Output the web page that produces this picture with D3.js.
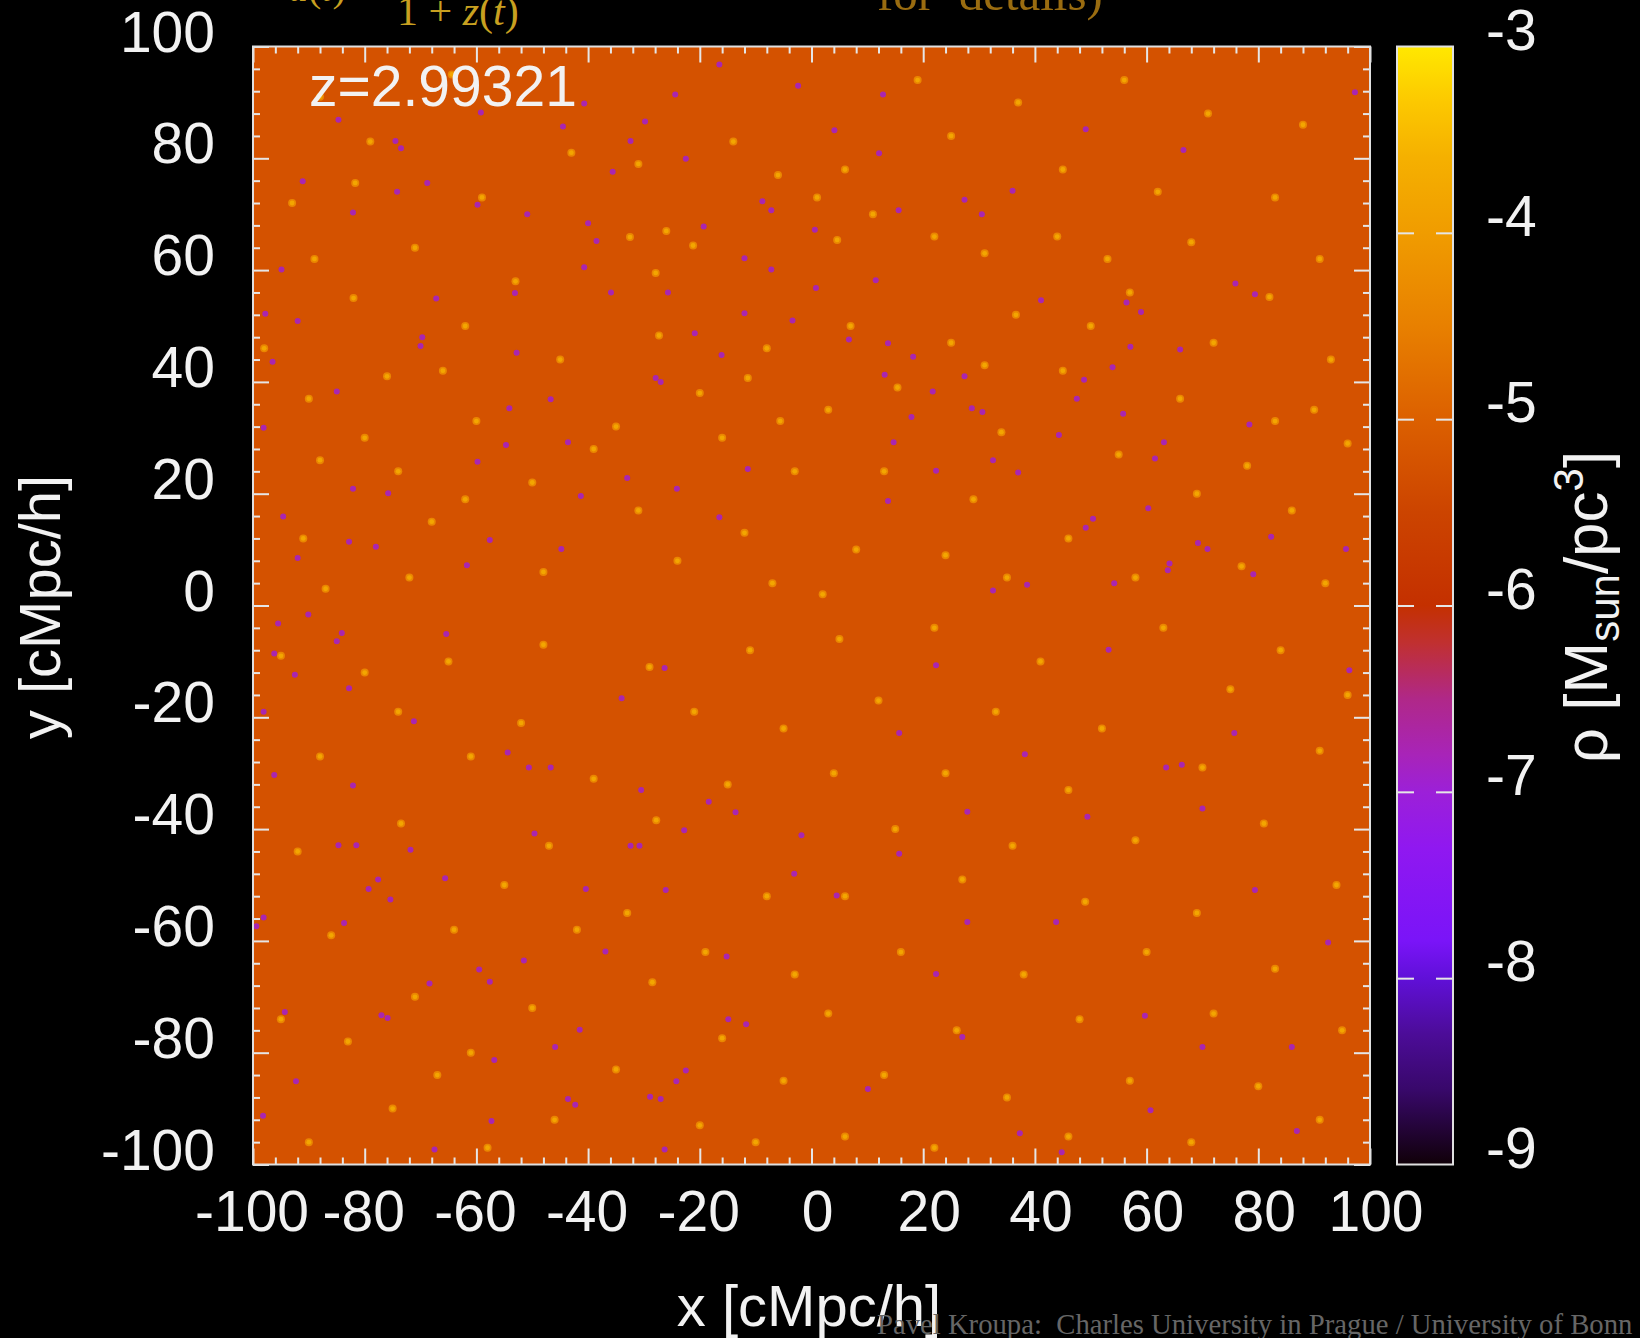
<!DOCTYPE html>
<html>
<head>
<meta charset="utf-8">
<script src="https://cdn.jsdelivr.net/npm/d3@7"></script>
<style>
    html, body { margin: 0; padding: 0; background: #000; overflow: hidden; }
    text { font-family: "Liberation Sans", sans-serif; fill: #f2f2f2; white-space: pre; }
    .serif { font-family: "Liberation Serif", serif; }
</style>
</head>
<body>
<div id="chart"></div>
<script>
const xTickValues = [-100, -80, -60, -40, -20, 0, 20, 40, 60, 80, 100];
const yTickValues = [-100, -80, -60, -40, -20, 0, 20, 40, 60, 80, 100];
const minorTickValues = [-96, -92, -88, -84, -76, -72, -68, -64, -56, -52, -48, -44, -36, -32, -28, -24, -16, -12, -8, -4,
    4, 8, 12, 16, 24, 28, 32, 36, 44, 48, 52, 56, 64, 68, 72, 76, 84, 88, 92, 96];
const rhoTickValues = [-3, -4, -5, -6, -7, -8, -9];

// colour bar (log rho -> colour)
const rhoStops = [-9, -8.6, -8.3, -8, -7.8, -7.3, -7, -6.8, -6.5, -6.2, -6, -5.5, -5, -4.5, -4, -3.6, -3.3, -3];
const rhoColors = ["#100008", "#38086a", "#4c0c98", "#6010d8", "#7a14f8", "#9018f0", "#9c20d8", "#a824b8", "#b02888",
    "#c03030", "#c43000", "#cc4400", "#dc6000", "#e88000", "#f09c00", "#f5b000", "#fcc800", "#ffe800"];

// The real field is a fine grain of many thousands of cells which can't be read one by one, and it isn't
// faked with noise here. fieldRho is the flat colour that averages the grain, and the lists below hold only
// the spots picked out by eye (x, y in cMpc/h, estimated positions, far fewer than the picture really has)
const fieldRho = -5.25;
const voidRho = -6.75;
const peakRho = -3.8;
const glowRho = -4.4;

const voidSpots = [
    [-16.5,96.8],[-2.4,93],[-24.4,91.4],[-40.7,89.8],[-59.2,88.2],[-29.8,86.6],[-84.7,86.9],[-44.5,85.7],[-32.4,83.1],[-74.5,83.1],
    [-73.5,81.8],[-22.5,79.9],[-35.6,77.6],[-91.1,75.9],[-68.8,75.6],[-74.2,74],[-59.8,71.7],[-8.8,72.3],[-7.2,70.7],[-82.1,70.3],
    [-50.9,70],[-40,68.4],[-19.3,67.8],[-38.5,65.2],[-12,62.1],[-40.7,60.5],[-7.2,60.1],[-94.9,60.1],[-35.9,56],[-53.1,55.9],
    [-67.2,54.9],[-25.7,56],[-12,52.3],[-3.4,51],[-97.8,52.2],[-92,50.9],[-20.9,48.7],[-69.7,48],[-70,46.4],[-16.1,44.8],
    [-52.8,45.2],[-96.5,43.6],[-27,40],[-27.9,40.7],[-85,38.3],[-46.7,36.9],[-54.1,35.3],[-98.1,31.8],[-54.7,28.7],[-43.6,29.2],
    [-59.8,25.7],[-75.8,20.1],[-41.3,19.6],[-24.1,20.9],[-82.1,20.9],[-94.6,15.9],[-16.5,15.8],[-82.8,11.4],[-78,10.5],[-57.6,11.7],
    [-44.8,10.1],[-92,8.5],[-61.7,7.2],[-11.4,24.4],[-33,22.8],
    [12.8,91.4],[4.1,85],[49.1,85.2],[97.3,91.8],[66.6,81.5],[12.1,80.9],[36,74.2],[27.4,72.6],[15.6,70.7],[30.5,70],
    [0.6,67.2],[11.5,58.2],[0.8,56.8],[79.4,55.7],[75.9,57.6],[56.4,54.2],[41.1,54.6],[59,52.5],[13.7,46.9],[57.1,46.3],
    [66,45.8],[6.7,47.6],[18.2,44.5],[13.1,41.3],[27.4,41],[48.8,40.4],[53.9,42.6],[21.7,38.3],[47.5,37],[28.7,35.3],
    [30.6,34.6],[17.9,33.7],[55.8,34.3],[44.3,30.5],[78.4,32.4],[14.7,29.2],[63.1,29.2],[32.5,26],[22.3,24.1],[61.5,26.3],
    [37,23.8],[13.7,18.7],[60.3,17.4],[50.4,15.5],[49.1,13.9],[82.3,12.3],[69.2,11.2],[70.9,10.1],[64.1,7.5],[63.8,6.3],
    [54.2,4],[38.6,3.7],[32.5,2.7],[95.7,10.1],[79.1,5.6],
    [-90.1,-1.6],[-95.5,-3.2],[-84.1,-4.9],[-65.4,-5.1],[-85,-6.4],[-96.2,-8.6],[-92.5,-12.4],[-82.8,-14.8],[-98.1,-19],[-71.2,-20.7],
    [-26.3,-11.2],[-34,-16.6],[-54.4,-26.3],[-46.7,-29],[-50.6,-29],[-96.2,-30.3],[-82.1,-32.2],[-30.5,-33],[-18.4,-35.1],[-13.6,-37],
    [-22.8,-40.2],[-1.8,-41.1],[-84.7,-42.9],[-81.5,-42.9],[-71.8,-43.7],[-30.8,-43],[-32.4,-43],[-49.6,-40.8],[-65.6,-48.8],[-77.6,-49],
    [-3.1,-48],[-79.3,-50.7],[-40.4,-50.7],[-26.1,-50.9],[-75.4,-52.6],[-98.1,-55.8],[-99.4,-57.4],[-83.7,-56.8],[-36.9,-61.9],[-51.5,-63.5],
    [-59.5,-65.1],[-15.2,-62.8],[-68.4,-67.6],[-57.6,-67.3],[-94.3,-72.7],[-77,-73.3],[-75.9,-73.8],[-41.5,-75.9],[-11.7,-74.9],[-14.9,-74],
    [-45.9,-79],[-56.8,-81.3],[-22.5,-83.2],[-24.2,-85.1],[-92.3,-85.1],[-43.6,-88.3],[-42.3,-89.3],[-27,-88.3],[-28.9,-87.9],[-57.3,-92.2],
    [-98.2,-91.3],[-67.5,-97.3],[-26.3,-97.3],
    [66.3,-28.5],[63.5,-29],[70,-36.3],[22.3,-10.7],[27.9,-36.9],[4.5,-51.9],[27.9,-56.6],[22.3,-65.9],[59.7,-73.4],[37.3,-94.4],
    [44.8,-97.8],[86,-79],[15.7,-44.4],[49.4,-37.8],[79.4,-50.9],[92.5,-60.3],[75.7,-22.8],[38.2,-26.6],[96.3,-11.6],[53.2,-7.9],
    [70,-79],[10.1,-86.5],[86.9,-94],[60.7,-90.3],[27,-77.2],[15.7,-22.8],[43.8,-56.6]
];

const peakSpots = [
    [-26,67],[-32.5,65.9],[-21.2,64.4],[-27.9,59.5],[-27.3,48.3],[-11.4,40.7],[-5.6,33],[-64.4,95],[-88,91],[-79,83],
    [-43,81],[-14,83],[-6,77],[-31,79],[-81.7,75.6],[-59,73],[-93,72],[-71,64],[-89,62],[-53,58],[-82,55],[-62,50],
    [-45,44],[-76,41],[-90,37],[-66,42],[-20,38],[-8,46],[-35,32],[-80,30],[-60,33],[-98,46],[-88,26],[-74,24],[-50,22],
    [-31,17],[-12,13],[-39,28],[-91,12],[-68,15],[-48,6],[-24,8],[-7,4],[-87,3],[-72,5],[-62,19],[-3,24],[-16,30],
    [19,94],[37,90],[56,94],[71,88],[88,86],[25,84],[6,78],[45,78],[62,74],[83,73],[1,73],[11,70],[31,63],[53,62],
    [22,66],[44,66],[68,65],[91,62],[4.6,65.4],[82,55.2],[36.6,52],[57,56],[7,50],[25,47],[72,47],[93,44],[45,42],
    [15.4,39],[66,37],[90,35],[3,35],[34,31],[55,27],[78,25],[96,29],[13,24],[29,19],[69,20],[86,17],[46,12],[8,10],
    [24,9],[58,5],[77,7],[92,4],[35,5],[2,2],[83,33],[50,50],[31,43],
    [-95,-9],[-80,-12],[-65,-10],[-48,-7],[-29,-11],[-11,-8],[-74,-19],[-52,-21],[-21,-19],[-5,-22],[-88,-27],[-61,-27],
    [-39,-31],[-15,-32],[-27.8,-38.4],[-73.5,-39],[-47,-43],[-92,-44],[-55,-50],[-33,-55],[-8,-52],[-86,-59],[-64,-58],
    [-42,-58],[-19,-62],[-3,-66],[-71,-70],[-28.5,-67.4],[-50,-72],[-95,-74],[-83,-78],[-61,-80],[-16,-77.4],[-35,-83],
    [-5,-85],[-75,-90],[-46,-92],[-20,-93],[-90,-96],[-58,-97],[-10,-96],[-67,-84],
    [5,-6],[22,-4],[41,-10],[63,-4],[84,-8],[96,-16],[12,-17],[33,-19],[52,-22],[75,-15],[4,-30],[24,-30],[46,-33],
    [70,-29],[91,-26],[15,-40],[36,-43],[58,-42],[81,-39],[6,-52],[27,-49],[49,-53],[69,-55],[94,-50],[16,-62],[38,-66],
    [60,-62],[83,-65],[3,-73],[26,-76],[48,-74],[72,-73],[95,-76],[13,-84],[35,-88],[57,-85],[80,-86],[6,-95],[22,-97],
    [46,-95],[68,-96],[91,-92]
];

const width = 1640, height = 1338;
const plot = {left: 253, right: 1370, top: 46.5, bottom: 1164.5};
const bar = {left: 1397, right: 1453};

const x = d3.scaleLinear().domain([-100, 100]).range([plot.left, plot.right]);
const y = d3.scaleLinear().domain([-100, 100]).range([plot.bottom, plot.top]);
const rhoY = d3.scaleLinear().domain([-9, -3]).range([plot.bottom, plot.top]);
const color = d3.scaleLinear().domain(rhoStops).range(rhoColors);

const svg = d3.select("#chart").append("svg")
    .attr("width", width)
    .attr("height", height)
    .attr("viewBox", `0 0 ${width} ${height}`)
    .style("display", "block");

svg.append("rect").attr("width", width).attr("height", height).attr("fill", "#000");

const defs = svg.append("defs");
defs.append("clipPath").attr("id", "box")
    .append("rect")
    .attr("x", plot.left).attr("y", plot.top)
    .attr("width", plot.right - plot.left).attr("height", plot.bottom - plot.top);
defs.append("filter").attr("id", "soft")
    .append("feGaussianBlur").attr("stdDeviation", 0.7);
let gradient = defs.append("linearGradient").attr("id", "rhoGradient")
    .attr("x1", 0).attr("x2", 0).attr("y1", 1).attr("y2", 0);
rhoStops.forEach((s, i) => {
    gradient.append("stop")
        .attr("offset", (s + 9) / 6)
        .attr("stop-color", rhoColors[i]);
});

/* Density field */
let field = svg.append("g").attr("clip-path", "url(#box)");
field.append("rect")
    .attr("x", plot.left).attr("y", plot.top)
    .attr("width", plot.right - plot.left).attr("height", plot.bottom - plot.top)
    .attr("fill", color(fieldRho));
let spots = field.append("g").attr("filter", "url(#soft)");
spots.selectAll(".peakGlow").data(peakSpots).join("circle")
    .attr("class", "peakGlow")
    .attr("cx", d => x(d[0])).attr("cy", d => y(d[1])).attr("r", 4)
    .attr("fill", color(glowRho));
spots.selectAll(".peak").data(peakSpots).join("circle")
    .attr("class", "peak")
    .attr("cx", d => x(d[0])).attr("cy", d => y(d[1])).attr("r", 2.4)
    .attr("fill", color(peakRho));
spots.selectAll(".void").data(voidSpots).join("circle")
    .attr("class", "void")
    .attr("cx", d => x(d[0])).attr("cy", d => y(d[1])).attr("r", 3)
    .attr("fill", color(voidRho));

/* Ticks, all pointing into the box. Only the left and bottom ones get labels */
let drawTicks = (axis, where, values, size) => {
    let g = svg.append("g")
        .attr("transform", where)
        .call(axis.tickValues(values).tickSize(-size).tickSizeOuter(0).tickFormat(""));
    g.select(".domain").remove();
    g.selectAll("line").attr("stroke", "#e6e6e6").attr("stroke-width", 2);
    return g;
};
const frameBottom = `translate(0, ${plot.bottom})`;
const frameTop = `translate(0, ${plot.top})`;
const frameLeft = `translate(${plot.left}, 0)`;
const frameRight = `translate(${plot.right}, 0)`;
drawTicks(d3.axisBottom(x), frameBottom, minorTickValues, 7);
drawTicks(d3.axisBottom(x), frameBottom, xTickValues, 16);
drawTicks(d3.axisTop(x), frameTop, minorTickValues, 7);
drawTicks(d3.axisTop(x), frameTop, xTickValues, 16);
drawTicks(d3.axisLeft(y), frameLeft, minorTickValues, 7);
drawTicks(d3.axisLeft(y), frameLeft, yTickValues, 16);
drawTicks(d3.axisRight(y), frameRight, minorTickValues, 7);
drawTicks(d3.axisRight(y), frameRight, yTickValues, 16);

svg.append("rect")
    .attr("x", plot.left).attr("y", plot.top)
    .attr("width", plot.right - plot.left).attr("height", plot.bottom - plot.top)
    .attr("fill", "none").attr("stroke", "#e0e0e0").attr("stroke-width", 2);

/* Tick labels */
const labelSize = 57;
svg.append("g").selectAll("text").data(xTickValues).join("text")
    .attr("x", d => x(d) + (d >= 0 ? 6 : -1))
    .attr("y", 1231)
    .attr("text-anchor", "middle")
    .style("font-size", labelSize + "px")
    .text(d => d);
svg.append("g").selectAll("text").data(yTickValues).join("text")
    .attr("x", 215)
    .attr("y", d => y(d) + 5)
    .attr("text-anchor", "end")
    .style("font-size", labelSize + "px")
    .text(d => d);

/* Colour bar */
svg.append("rect")
    .attr("x", bar.left).attr("y", plot.top)
    .attr("width", bar.right - bar.left).attr("height", plot.bottom - plot.top)
    .attr("fill", "url(#rhoGradient)");
const innerRho = rhoTickValues.slice(1, -1);
drawTicks(d3.axisLeft(rhoY), `translate(${bar.left}, 0)`, innerRho, 17);
drawTicks(d3.axisRight(rhoY), `translate(${bar.right}, 0)`, innerRho, 17);
svg.append("rect")
    .attr("x", bar.left).attr("y", plot.top)
    .attr("width", bar.right - bar.left).attr("height", plot.bottom - plot.top)
    .attr("fill", "none").attr("stroke", "#e0e0e0").attr("stroke-width", 2);
svg.append("g").selectAll("text").data(rhoTickValues).join("text")
    .attr("x", 1486)
    .attr("y", d => rhoY(d) + 3)
    .style("font-size", labelSize + "px")
    .text(d => d);

/* Axis titles */
svg.append("text")
    .attr("x", 809).attr("y", 1326)
    .attr("text-anchor", "middle")
    .style("font-size", "58px")
    .text("x [cMpc/h]");
svg.append("text")
    .attr("transform", "translate(60, 607) rotate(-90)")
    .attr("text-anchor", "middle")
    .style("font-size", "58px")
    .text("y [cMpc/h]");
let rhoTitle = svg.append("text")
    .attr("transform", "translate(1607, 607) rotate(-90)")
    .attr("text-anchor", "middle")
    .style("font-size", "62px");
rhoTitle.append("tspan").text("ρ [M");
rhoTitle.append("tspan").attr("dy", 12).style("font-size", "42px").text("sun");
rhoTitle.append("tspan").attr("dy", -12).text("/pc");
rhoTitle.append("tspan").attr("dy", -24).style("font-size", "42px").text("3");
rhoTitle.append("tspan").attr("dy", 24).text("]");

svg.append("text")
    .attr("x", 309).attr("y", 106)
    .style("font-size", "57px")
    .text("z=2.99321");

/* Slide text that the crop cuts off at the top */
const gold = "#c8a020";
let fraction = svg.append("text").attr("class", "serif")
    .attr("x", 397).attr("y", 25)
    .style("font-size", "42px").style("fill", gold);
fraction.append("tspan").text("1 + ");
fraction.append("tspan").style("font-style", "italic").text("z");
fraction.append("tspan").text("(");
fraction.append("tspan").style("font-style", "italic").text("t");
fraction.append("tspan").text(")");
let cutOff = svg.append("text").attr("class", "serif")
    .attr("x", 288).attr("y", 1)
    .style("font-size", "40px").style("fill", gold);
cutOff.append("tspan").style("font-style", "italic").text("a");
cutOff.append("tspan").text("(");
cutOff.append("tspan").style("font-style", "italic").text("t");
cutOff.append("tspan").text(")");
svg.append("text").attr("class", "serif")
    .attr("x", 877).attr("y", 10)
    .style("font-size", "49px").style("fill", "#9a6c10")
    .text("for  details)");

/* Credit line, sits on top of the x title */
svg.append("text").attr("class", "serif")
    .attr("x", 877).attr("y", 1334)
    .style("font-size", "28.7px").style("fill", "#666")
    .text("Pavel Kroupa:  Charles University in Prague / University of Bonn");
</script>
</body>
</html>
